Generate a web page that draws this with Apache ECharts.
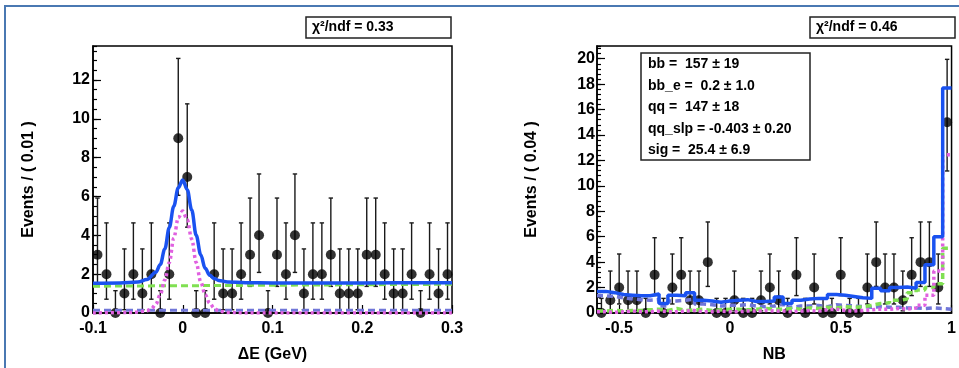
<!DOCTYPE html>
<html><head><meta charset="utf-8">
<script src="https://cdn.jsdelivr.net/npm/echarts@6/dist/echarts.min.js"></script>
<style>html,body{margin:0;padding:0;background:#fff}#c{width:959px;height:368px}</style>
</head><body><div id="c"></div>
<script>
// ---------- data ----------
// Left panel: ΔE, 40 bins of 0.01 from -0.1
const leftXMin = -0.1, leftBinW = 0.01;
const leftCounts = [3,2,0,1,2,1,2,0,2,9,7,0,0,2,1,1,2,3,4,0,3,2,4,1,2,2,3,1,1,1,3,3,2,1,1,2,0,2,1,2];
// Right panel: NB, 40 bins of 0.04 from -0.6
const rightXMin = -0.6, rightBinW = 0.04;
const rightCounts = [0,1,2,1,1,0,3,0,2,3,1,1,4,0,0,1,0,0,1,2,1,0,3,0,2,0,0,3,0,0,2,4,2,2,1,3,4,4,2,15];
// Poisson error bar ends, indexed by count (0..15)
const errLow  = [0,0.17,0.71,1.37,2.09,2.84,3.62,4.42,5.23,6.06,6.89,7.72,8.57,9.42,10.29,11.17];
const errHigh = [1.15,3.30,4.64,5.92,7.16,8.38,9.58,10.77,11.95,13.11,14.27,15.42,16.58,17.73,18.84,19.95];

// Left fitted curves
const totalX = [-0.1,-0.07,-0.05,-0.04,-0.03,-0.025,-0.02,-0.015,-0.01,-0.005,0,0.005,0.01,0.015,0.02,0.025,0.03,0.035,0.04,0.05,0.07,0.1,0.2,0.3];
const totalY = [1.53,1.55,1.6,1.72,2.1,2.5,3.3,4.4,5.5,6.45,6.85,6.35,5.3,4.0,3.0,2.3,1.95,1.78,1.68,1.6,1.56,1.55,1.55,1.56];
const sigX = [-0.1,-0.06,-0.05,-0.04,-0.035,-0.03,-0.025,-0.02,-0.015,-0.01,-0.005,0,0.005,0.01,0.015,0.02,0.025,0.03,0.035,0.04,0.05,0.07,0.3];
const sigY = [0,0.02,0.05,0.12,0.22,0.45,0.95,1.7,2.6,3.85,4.9,5.25,4.8,3.8,2.6,1.6,0.95,0.5,0.25,0.1,0.03,0,0];
const qqLeftX = [-0.1,0.3];
const qqLeftY = [1.38,1.48];
const bbLeftX = [-0.1,0.3];
const bbLeftY = [0.14,0.14];

// Right binned fit components (per bin)
const rightTotal = [1.7,1.6,1.45,1.4,1.35,1.35,1.5,0.75,1.4,1.35,1.6,1.0,0.95,0.85,0.95,1.0,1.05,0.9,0.9,0.95,1.25,0.75,1.0,1.1,1.15,1.15,1.45,1.4,1.3,1.2,1.15,1.95,1.75,2.0,2.05,1.95,2.4,3.8,6.0,17.7];
const rightQQ = [0.15,0.2,0.15,0.2,0.2,0.25,0.3,0.2,0.35,0.2,0.25,0.3,0.2,0.25,0.3,0.3,0.25,0.3,0.35,0.3,0.3,0.35,0.3,0.4,0.35,0.45,0.4,0.5,0.45,0.5,0.6,0.75,0.8,1.0,1.1,1.6,1.8,2.0,2.3,5.1];
const rightSig = [0.1,0.05,0.1,0.15,0.1,0.1,0.15,0.1,0.1,0.15,0.2,0.1,0.1,0.15,0.1,0.1,0.15,0.15,0.2,0.15,0.15,0.1,0.15,0.2,0.15,0.25,0.3,0.2,0.15,0.2,0.25,0.3,0.3,0.35,0.3,0.4,0.6,1.4,3.3,12.45];
const rightBB = [1.35,1.3,1.2,1.1,1.05,1.0,1.05,0.55,0.95,1.0,1.1,0.7,0.65,0.55,0.6,0.6,0.65,0.55,0.5,0.55,0.7,0.45,0.55,0.55,0.6,0.5,0.65,0.6,0.55,0.5,0.45,0.5,0.45,0.45,0.4,0.4,0.35,0.4,0.35,0.3];

const yTicksLeft = {max: 13.75, major: 2, minor: 0.5};
const yTicksRight = {max: 21, major: 2, minor: 0.4};
const rightXLabels = [-0.5, 0, 0.5, 1];

// ---------- build ----------
const FONT = "'Liberation Sans', Arial, sans-serif";
const C_BLUE = '#1a52f0', C_GREEN = '#80e052', C_MAG = '#e060e0', C_LAV = '#7076d8';

function centers(xmin, w, n){ const a=[]; for(let i=0;i<n;i++) a.push(+(xmin+(i+0.5)*w).toFixed(4)); return a; }
function edges(xmin, w, n){ const a=[]; for(let i=0;i<=n;i++) a.push(+(xmin+i*w).toFixed(4)); return a; }
const lc = centers(leftXMin, leftBinW, leftCounts.length);
const rc = centers(rightXMin, rightBinW, rightCounts.length);
const re = edges(rightXMin, rightBinW, rightCounts.length);

const pts = (xs, ys) => xs.map((x,i)=>[x, ys[i]]);
const errData = (xs, cs) => xs.map((x,i)=>[x, errLow[cs[i]], errHigh[cs[i]]]);
const stepData = vals => re.map((x,i)=>[x, vals[Math.min(i, vals.length-1)]]);

function errItem(params, api){
  const x = api.value(0), lo = api.value(1), hi = api.value(2);
  const a = api.coord([x, lo]), b = api.coord([x, hi]);
  const cw = 2.2, st = {stroke:'#1a1a1a', lineWidth:1.4};
  return {type:'group', children:[
    {type:'line', shape:{x1:a[0],y1:a[1],x2:b[0],y2:b[1]}, style:st},
    {type:'line', shape:{x1:b[0]-cw,y1:b[1],x2:b[0]+cw,y2:b[1]}, style:st},
    {type:'line', shape:{x1:a[0]-cw,y1:a[1],x2:a[0]+cw,y2:a[1]}, style:st}
  ]};
}

const labelFont = {fontFamily:FONT, fontWeight:'bold', fontSize:16, color:'#000'};
const nameFont = {fontFamily:FONT, fontWeight:'bold', fontSize:16, color:'#000'};
const axLine = {show:true, onZero:false, lineStyle:{color:'#000', width:1.5}};
const noLine = {show:false, onZero:false};
const tickStyle = {color:'#000', width:1.2};

const chart = echarts.init(document.getElementById('c'));
chart.setOption({
  animation:false,
  backgroundColor:'#fff',
  grid:[
    {left:93, top:46, width:359, height:268, show:true, borderColor:'#000', borderWidth:1.5, backgroundColor:'transparent'},
    {left:597, top:46, width:358, height:268, show:true, borderColor:'#000', borderWidth:1.5, backgroundColor:'transparent'}
  ],
  xAxis:[
    {gridIndex:0, type:'value', min:-0.1, max:0.3, interval:0.1, axisLine:axLine,
     axisTick:{inside:true, length:8, lineStyle:tickStyle}, splitLine:{show:false},
     axisLabel:Object.assign({margin:8}, labelFont),
     name:'ΔE (GeV)', nameLocation:'middle', nameGap:34, nameTextStyle:nameFont},
    {gridIndex:1, type:'value', min:-0.6, max:1.0, axisLine:axLine,
     axisTick:{inside:true, length:8, lineStyle:tickStyle, customValues:rightXLabels}, splitLine:{show:false},
     axisLabel:Object.assign({margin:8, customValues:rightXLabels}, labelFont),
     name:'NB', nameLocation:'middle', nameGap:34, nameTextStyle:nameFont}
  ],
  yAxis:[
    {gridIndex:0, type:'value', min:0, max:yTicksLeft.max, interval:yTicksLeft.major, axisLine:axLine,
     axisTick:{inside:true, length:8, lineStyle:tickStyle}, splitLine:{show:false},
     axisLabel:Object.assign({margin:3, showMaxLabel:false}, labelFont),
     name:'Events / ( 0.01 )', nameLocation:'middle', nameRotate:90, nameGap:56, nameTextStyle:nameFont},
    {gridIndex:0, type:'value', position:'left', min:0, max:yTicksLeft.max, interval:yTicksLeft.minor,
     axisLine:noLine, axisTick:{inside:true, length:4, lineStyle:tickStyle}, axisLabel:{show:false}, splitLine:{show:false}},
    {gridIndex:1, type:'value', min:0, max:yTicksRight.max, interval:yTicksRight.major, axisLine:axLine,
     axisTick:{inside:true, length:8, lineStyle:tickStyle}, splitLine:{show:false},
     axisLabel:Object.assign({margin:2, showMaxLabel:false}, labelFont),
     name:'Events / ( 0.04 )', nameLocation:'middle', nameRotate:90, nameGap:57, nameTextStyle:nameFont},
    {gridIndex:1, type:'value', position:'left', min:0, max:yTicksRight.max, interval:yTicksRight.minor,
     axisLine:noLine, axisTick:{inside:true, length:4, lineStyle:tickStyle}, axisLabel:{show:false}, splitLine:{show:false}}
  ],
  series:[
    // left
    {type:'custom', xAxisIndex:0, yAxisIndex:0, renderItem:errItem, data:errData(lc, leftCounts), encode:{x:0,y:[1,2]}, clip:false, z:2},
    {type:'scatter', xAxisIndex:0, yAxisIndex:0, data:pts(lc, leftCounts), symbolSize:10, itemStyle:{color:'#000'}, clip:false, z:3},
    {type:'line', xAxisIndex:0, yAxisIndex:0, data:pts(bbLeftX, bbLeftY), symbol:'none', lineStyle:{color:C_LAV, width:3, type:[7,4]}, z:4},
    {type:'line', xAxisIndex:0, yAxisIndex:0, data:pts(qqLeftX, qqLeftY), symbol:'none', lineStyle:{color:C_GREEN, width:3, type:[7,4]}, z:4},
    {type:'line', xAxisIndex:0, yAxisIndex:0, data:pts(sigX, sigY), symbol:'none', smooth:0.35, smoothMonotone:'x', lineStyle:{color:C_MAG, width:3.5, type:[3,3]}, z:4},
    {type:'line', xAxisIndex:0, yAxisIndex:0, data:pts(totalX, totalY), symbol:'none', smooth:0.35, smoothMonotone:'x', lineStyle:{color:C_BLUE, width:3.5}, z:5},
    // right
    {type:'custom', xAxisIndex:1, yAxisIndex:2, renderItem:errItem, data:errData(rc, rightCounts), encode:{x:0,y:[1,2]}, clip:false, z:2},
    {type:'scatter', xAxisIndex:1, yAxisIndex:2, data:pts(rc, rightCounts), symbolSize:10, itemStyle:{color:'#000'}, clip:false, z:3},
    {type:'line', xAxisIndex:1, yAxisIndex:2, data:stepData(rightBB), step:'end', symbol:'none', lineStyle:{color:C_LAV, width:3.5, type:[6,4]}, z:4},
    {type:'line', xAxisIndex:1, yAxisIndex:2, data:stepData(rightQQ), step:'end', symbol:'none', lineStyle:{color:C_GREEN, width:3.5, type:[6,4]}, z:4},
    {type:'line', xAxisIndex:1, yAxisIndex:2, data:stepData(rightSig), step:'end', symbol:'none', lineStyle:{color:C_MAG, width:3.5, type:[3,3]}, z:4},
    {type:'line', xAxisIndex:1, yAxisIndex:2, data:stepData(rightTotal), step:'end', symbol:'none', lineStyle:{color:C_BLUE, width:3.5}, z:5}
  ],
  graphic:[
    {type:'rect', shape:{x:5, y:6, width:1000, height:420}, style:{fill:'none', stroke:'#4a78b2', lineWidth:2}, silent:true},
    {type:'rect', shape:{x:306, y:17, width:145, height:21}, style:{fill:'#fff', stroke:'#222', lineWidth:1.5}},
    {type:'text', x:312, y:27.5, style:{text:'χ²/ndf = 0.33', font:'bold 14px '+FONT, fill:'#000', verticalAlign:'middle'}},
    {type:'rect', shape:{x:810, y:17, width:145, height:21}, style:{fill:'#fff', stroke:'#222', lineWidth:1.5}},
    {type:'text', x:816, y:27.5, style:{text:'χ²/ndf = 0.46', font:'bold 14px '+FONT, fill:'#000', verticalAlign:'middle'}},
    {type:'rect', shape:{x:641, y:53, width:169, height:107}, style:{fill:'#fff', stroke:'#222', lineWidth:1.5}, z:10},
    {type:'text', x:648, y:64.5, z:11, style:{text:'bb =  157 ± 19', font:'bold 14px '+FONT, fill:'#000', verticalAlign:'middle'}},
    {type:'text', x:648, y:86, z:11, style:{text:'bb_e =  0.2 ± 1.0', font:'bold 14px '+FONT, fill:'#000', verticalAlign:'middle'}},
    {type:'text', x:648, y:107.5, z:11, style:{text:'qq =  147 ± 18', font:'bold 14px '+FONT, fill:'#000', verticalAlign:'middle'}},
    {type:'text', x:648, y:129, z:11, style:{text:'qq_slp = -0.403 ± 0.20', font:'bold 14px '+FONT, fill:'#000', verticalAlign:'middle'}},
    {type:'text', x:648, y:150.5, z:11, style:{text:'sig =  25.4 ± 6.9', font:'bold 14px '+FONT, fill:'#000', verticalAlign:'middle'}}
  ]
});
</script></body></html>
